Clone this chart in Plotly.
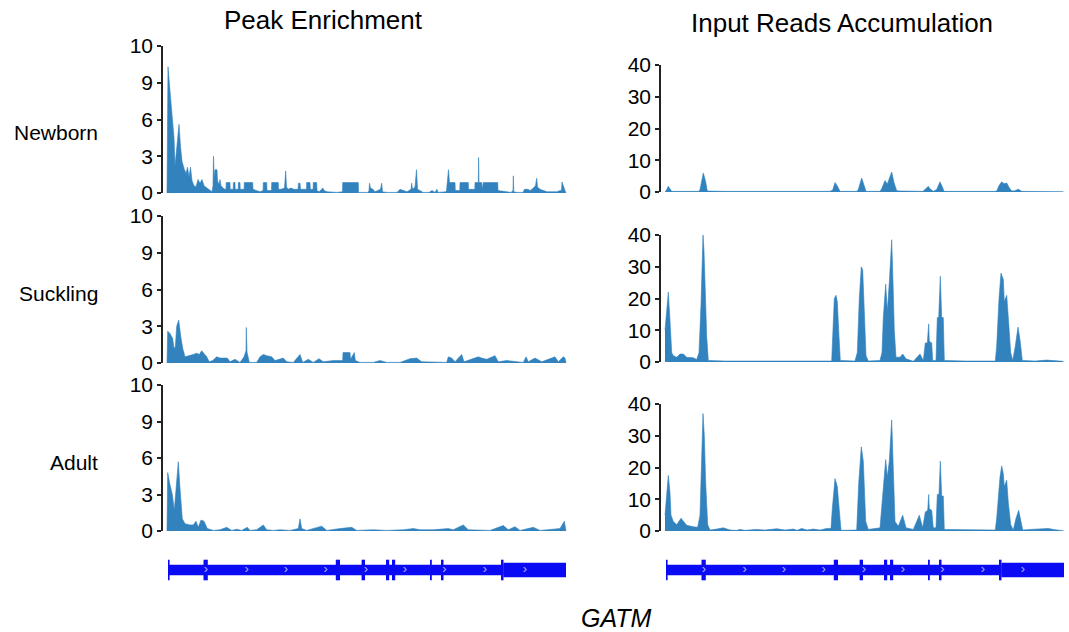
import plotly.graph_objects as go

W, H = 1069, 632
BLUE = "#3182bd"
GENE_BLUE = "#0a0af5"

# ---------------- data (position along locus 0-400, signal value) ----------------
newborn_peak = [(0,0),(1,10.3),(2.5,8.8),(4,7.4),(5.5,6.3),(7,4.5),(8,2.2),(9.5,3.5),(11,5.0),(12,5.6),
    (13.5,3.8),(15,2.6),(17,2.0),(19,1.6),(20.5,2.1),(22,1.3),(23.5,2.1),(25,1.0),(27,0.6),(29,0.5),
    (31,1.1),(33,0.8),(35,1.1),(37,0.6),(40,0.4),(43,0.2),(45,0.1),(46,0.6),(46.5,3.0),(47.3,1.2),
    (48,1.9),(50,1.9),(50.5,1.0),(52,0.7),(53,1.1),(54,0.6),(56,0.4),(58,0.3),(59,0.3),(59.2,0.85),
    (63,0.85),(63.2,0.3),(66.2,0.3),(66.4,0.85),(68,0.85),(68.2,0.3),(71.2,0.3),(71.4,0.85),(73,0.85),
    (73.2,0.3),(77.1,0.3),(77.3,0.85),(85.7,0.85),(86,0.3),(90,0.2),(93,0.1),(96.1,0.2),(96.3,0.85),
    (99.7,0.85),(100,0.2),(104.5,0.2),(104.7,0.85),(111.3,0.85),(111.5,0.3),(114,0.3),(117.5,0.4),
    (118.7,1.8),(119.5,0.5),(121,0.3),(124,0.4),(127,0.3),(131,0.3),(131.5,0.8),(133,0.8),(133.5,0.3),
    (136,0.3),(139.5,0.3),(139.7,0.85),(143,0.85),(143.3,0.3),(146.1,0.3),(146.3,0.85),(149.7,0.85),
    (150,0.2),(152,0.1),(156,0.4),(157,0.2),(160,0.1),(165,0.05),(170,0.05),(175,0.1),(175.5,0.1),
    (175.7,0.85),(191.3,0.85),(191.5,0.05),(195,0.05),(201,0.05),(202,0.2),(202.5,0.8),(203.5,0.4),
    (206,0.3),(208,0.1),(213.5,0.3),(214.7,0.8),(215.5,0.1),(220,0.05),(225,0.05),(230,0.05),(233,0.3),
    (236,0.2),(240,0.1),(244,0.3),(244.7,0.8),(245.5,0.3),(248,0.5),(249.5,1.9),(250.5,0.3),(253,0.2),
    (256,0.05),(262,0.05),(265,0.2),(268,0.05),(270,0.3),(271,0.05),(279,0.1),(279.5,0.2),(280,0.85),
    (281.5,1.9),(282.5,0.85),(288,0.85),(288.3,0.2),(292,0.2),(292.8,0.2),(293,0.85),(301.3,0.85),
    (301.5,0.3),(303,0.3),(307.8,0.3),(308,0.85),(311.3,0.85),(311.6,2.9),(312,0.85),(314.7,0.85),
    (315,0.3),(316.3,0.85),(330.7,0.85),(331,0.2),(335,0.15),(340,0.05),(344,0.05),(346,0.2),(346.3,1.4),
    (346.8,0.1),(350,0.05),(356,0.05),(357.5,0.3),(361,0.3),(363,0.2),(365,0.3),(368.5,0.6),(369.7,1.2),
    (370.5,0.5),(373,0.3),(376,0.2),(380,0.1),(385,0.1),(390,0.1),(393,0.2),(394.5,0.2),(395,0.9),
    (397,0.3),(398,0.2),(399,0)]

suckling_peak = [(0,0),(0.7,2.6),(3,2.4),(4.7,2.1),(5.7,2.0),(7,1.2),(8.3,1.3),(9.7,3.0),(11.7,3.5),
    (13.7,2.2),(15.7,1.2),(18,0.5),(23,0.6),(26.3,0.7),(29.7,0.8),(32.3,0.7),(34.7,1.0),(37,0.8),
    (39.7,0.5),(42.3,0.1),(45.7,0.2),(49.7,0.5),(53,0.4),(60.3,0.4),(63,0.1),(68,0.3),(73,0.05),(77,0.5),
    (79,1.0),(79.3,2.9),(80,0.9),(82.3,0.05),(89.7,0.05),(93,0.5),(96.3,0.7),(99.7,0.6),(104.7,0.5),
    (108,0.2),(116.3,0.4),(119.7,0.1),(126.3,0.05),(133,0.7),(135.7,0.05),(141.3,0.3),(146.3,0.05),
    (152,0.35),(156.3,0.1),(166.3,0.2),(175.7,0.2),(176,0.85),(183,0.85),(183.5,0.3),(187.3,0.85),
    (188.3,0.2),(193,0.05),(206.3,0.05),(213,0.2),(219.7,0.05),(233,0.05),(243,0.35),(249.7,0.4),
    (254.7,0.1),(266.3,0.05),(279.7,0.05),(281.3,0.5),(284.7,0.4),(288,0.1),(294.7,0.7),(297,0.1),
    (304.7,0.3),(311.3,0.5),(314.7,0.4),(319.7,0.3),(328,0.6),(331.3,0.1),(339.7,0.2),(356.3,0.05),
    (359,0.5),(361.3,0.1),(368,0.4),(374.7,0.1),(388,0.5),(391.3,0.1),(396.3,0.5),(398,0.4),(399,0)]

adult_peak = [(0,0),(0.7,4.8),(3,3.8),(5.3,3.0),(7.3,1.7),(9,3.5),(11.3,5.7),(13,3.5),(15.3,1.0),
    (18,0.6),(23,0.5),(26.3,0.5),(29,0.8),(31.3,0.3),(34,0.9),(37,0.8),(40.3,0.2),(46.3,0.05),(53,0.1),
    (59.7,0.3),(64.7,0.05),(69.7,0.15),(74.7,0.05),(80.3,0.3),(83,0.05),(89.7,0.1),(96.3,0.5),(99.7,0.1),
    (106.3,0.05),(113,0.1),(123,0.05),(131.3,0.2),(133,1.0),(134.7,0.2),(139.7,0.05),(154.7,0.4),
    (159.7,0.05),(173,0.2),(184.7,0.3),(189.7,0.05),(206.3,0.1),(219.7,0.05),(236.3,0.1),(246.3,0.2),
    (253,0.1),(266.3,0.1),(281.3,0.2),(286.3,0.1),(296.3,0.5),(301.3,0.1),(313,0.1),(323,0.05),
    (336.3,0.45),(341.3,0.1),(348,0.35),(353,0.05),(366.3,0.3),(373,0.05),(386.3,0.15),(393,0.2),
    (397.3,0.8),(398.3,0.4),(399,0)]

newborn_input = [(0,0.2),(1,0.3),(3.3,1.8),(5.5,0.8),(6.7,0.2),(20,0.2),(34,0.2),(35,0.8),(38.3,6.0),
    (40.5,3.5),(42.3,0.3),(60,0.2),(113,0.2),(113.5,0.4),(114,0.2),(165,0.2),(167.7,0.6),(170,3.0),
    (172.5,1.8),(175,0.2),(192,0.2),(193.3,0.8),(196.7,4.4),(199,2.0),(201,0.2),(215,0.2),(216.7,1.0),
    (220,3.6),(222.3,2.5),(224,4.0),(226.7,6.3),(229,3.0),(231.7,0.4),(236,0.3),(245,0.2),(258,0.2),
    (260,0.8),(263.3,1.8),(265,1.0),(268.3,0.2),(271.7,0.8),(275,3.2),(277.5,1.5),(279,0.2),(330,0.2),
    (331.7,0.3),(334,2.0),(336.7,3.2),(339,2.6),(341.7,2.8),(344,1.5),(346.7,0.3),(350,0.4),(353.3,0.9),
    (356.7,0.2),(370,0.15),(398.3,0.1)]

suckling_input = [(0,10),(3.3,22),(5,13),(5.7,8),(6.7,3),(8.3,2),(11.7,1.5),(15,2.5),(18.3,2.5),
    (21.7,1.5),(25,1.3),(28.3,1.3),(31.7,0.8),(34,3),(36,18),(38,40),(39,35),(40.3,20),(41.7,8),
    (43.3,0.5),(60,0.3),(100,0.3),(140,0.3),(166.7,0.3),(167.7,8),(169.3,20),(171,21),(172.3,19),
    (174,8),(175.3,0.5),(190,0.3),(192.3,3),(194.3,20),(196.3,30),(197.7,29),(199.3,15),(201,2),
    (203.3,0.3),(215,0.5),(217,3),(218.3,14),(220.7,24.5),(222.3,16),(224.3,25),(226.7,38.5),(228.3,22),
    (229.3,10),(231,1.5),(235,1.5),(237.7,2.5),(241,1),(248.3,0.2),(252.3,1.5),(255,2.5),(258.3,0.5),
    (260.3,6),(262.3,6),(263.7,12),(264.3,6.5),(266.7,6),(267.7,0.5),(271,0.5),(272.3,14),(273.7,14),
    (275.3,27),(276.7,14),(278.3,14),(279.3,0.5),(300,0.3),(330.3,0.3),(331.7,5),(334,20),(336,28),
    (338.3,26),(339.3,19),(341.7,21),(343.3,14),(345.7,3),(347.7,0.5),(350.3,5),(353,11),(355,7),
    (357.3,0.5),(370,0.3),(381.7,0.6),(390,0.3),(398.3,0.2)]

adult_input = [(0,5),(0.7,8),(3.3,17.5),(5,12),(6,5),(8.3,3),(11.7,2),(16,4),(18.3,3),(21.7,1.8),
    (28.3,1.3),(32.7,1.2),(35,5),(36.7,20),(38,37),(39.3,30),(40.7,15),(42.7,2),(45,0.3),(51.7,0.6),
    (58.3,1.0),(65,0.3),(71.7,0.2),(75,0.5),(80,0.2),(91.7,0.5),(100,0.3),(111.7,0.7),(120,0.3),
    (128.3,0.6),(132,0.2),(136.7,0.8),(142,0.3),(148.3,0.6),(155,0.3),(161.7,0.8),(166,0.8),(167.3,7),
    (170,16.5),(172.3,14),(174.3,5),(176,0.2),(191.7,0.3),(193.7,15),(196.3,26.5),(198.3,22),(200.7,3),
    (203.3,0.5),(215,1.0),(217.7,12),(220.7,22.5),(222.3,17),(224.3,22),(226.7,35),(228.3,21),(230,3),
    (233.3,1.5),(237.7,5),(241,1),(248.3,0.5),(254.3,5),(257.7,1),(260.3,6),(262.7,6.5),(263.7,11.5),
    (264.3,7),(266.7,6.5),(268.3,1),(271,1),(272.3,11.5),(274,11.5),(275.3,22),(276.7,11),(278.3,11),
    (279.3,0.5),(300,0.4),(320,0.3),(330.3,0.3),(331.7,4),(335,17),(336.7,20.5),(338.3,18),(339.3,14),
    (341.7,16),(343.3,9),(345.7,2),(348.3,0.3),(351,4),(353.7,6.5),(356,3),(357.7,0.3),(365,0.5),
    (375,0.6),(383.3,0.8),(390,0.4),(398.3,0.1)]

rows = ["Newborn", "Suckling", "Adult"]
titles = ["Peak Enrichment", "Input Reads Accumulation"]
gene_name = "GATM"

peak_tickvals = [0, 3, 6, 9, 12]
peak_ticktext = ["0", "3", "6", "9", "10"]
input_tickvals = [0, 10, 20, 30, 40]
input_ticktext = ["0", "10", "20", "30", "40"]

# GATM gene model (start, end) along the same locus coordinate
exons = [(1.0, 2.6), (36.5, 40.8), (168.8, 173.0), (194.6, 198.0), (219.0, 222.2),
         (225.0, 228.2), (263.0, 264.8), (274.0, 276.5), (334.0, 336.5)]
intron_span = (1.0, 336.5)
utr_span = (336.5, 399.0)
strand_marks = [39, 79.7, 119, 158.7, 199, 238, 277.3, 318, 358]

# ---------------- layout helpers ----------------
def dx(a, b):
    return [a / W, b / W]

def dy(top, bottom):
    return [1 - bottom / H, 1 - top / H]

left_x = dx(163, 567)
right_x = dx(661, 1065)
left_y = [dy(46, 193), dy(216, 363), dy(385, 531)]
right_y = [dy(65, 192), dy(235, 362), dy(404, 531)]

tracks_left = [newborn_peak, suckling_peak, adult_peak]
tracks_right = [newborn_input, suckling_input, adult_input]

fig = go.Figure()
layout = dict(
    width=W, height=H, margin=dict(l=0, r=0, t=0, b=0, pad=0, autoexpand=False),
    paper_bgcolor="white", plot_bgcolor="white", showlegend=False,
    font=dict(family="Arial, Liberation Sans, sans-serif", color="black"),
)

def add_axes(idx, xdom, ydom, yr, tv, tt):
    xs = "xaxis" if idx == 1 else f"xaxis{idx}"
    ys = "yaxis" if idx == 1 else f"yaxis{idx}"
    layout[xs] = dict(domain=xdom, range=[-4, 400], visible=False, automargin=False,
                      anchor=f"y{'' if idx == 1 else idx}")
    layout[ys] = dict(domain=ydom, range=yr, anchor=f"x{'' if idx == 1 else idx}",
                      tickvals=tv, ticktext=tt, ticks="outside", ticklen=4, tickwidth=1.5,
                      tickcolor="#222", showline=True, linewidth=1.5, linecolor="#222",
                      showgrid=False, zeroline=False, tickfont=dict(size=21, color="black"),
                      automargin=False, fixedrange=True)

idx = 0
for r in range(3):
    for c in range(2):
        idx += 1
        data = tracks_left[r] if c == 0 else tracks_right[r]
        if c == 0:
            add_axes(idx, left_x, left_y[r], [0, 12], peak_tickvals, peak_ticktext)
        else:
            add_axes(idx, right_x, right_y[r], [0, 40], input_tickvals, input_ticktext)
        xs = [p for p, v in data]
        vs = [v for p, v in data]
        ax = "" if idx == 1 else str(idx)
        fig.add_trace(go.Scatter(x=xs, y=vs, mode="lines", fill="tozeroy",
                                 line=dict(color=BLUE, width=0.6), fillcolor=BLUE,
                                 xaxis=f"x{ax}", yaxis=f"y{ax}", hoverinfo="skip"))

# gene tracks
shapes = []
for gi, xdom in zip([7, 8], [left_x, right_x]):
    layout[f"xaxis{gi}"] = dict(domain=xdom, range=[-4, 400], visible=False, automargin=False,
                                anchor=f"y{gi}")
    layout[f"yaxis{gi}"] = dict(domain=dy(555, 585), range=[-1.5, 1.5], visible=False,
                                automargin=False, anchor=f"x{gi}")
    xr, yr = f"x{gi}", f"y{gi}"
    shapes.append(dict(type="rect", xref=xr, yref=yr, x0=intron_span[0], x1=intron_span[1],
                       y0=-0.53, y1=0.53, fillcolor=GENE_BLUE, line=dict(width=0), layer="below"))
    shapes.append(dict(type="rect", xref=xr, yref=yr, x0=utr_span[0], x1=utr_span[1],
                       y0=-0.72, y1=0.72, fillcolor=GENE_BLUE, line=dict(width=0), layer="below"))
    for a, b in exons:
        shapes.append(dict(type="rect", xref=xr, yref=yr, x0=a, x1=b,
                           y0=-1.03, y1=1.03, fillcolor=GENE_BLUE, line=dict(width=0), layer="below"))
    fig.add_trace(go.Scatter(x=strand_marks, y=[0] * len(strand_marks), mode="text",
                             text=["›"] * len(strand_marks),
                             textfont=dict(size=13, color="#aab2ff"),
                             xaxis=xr, yaxis=yr, hoverinfo="skip"))
layout["shapes"] = shapes

ann = []
ann.append(dict(text=titles[0], x=323 / W, y=1 - 20 / H, xref="paper", yref="paper",
                showarrow=False, font=dict(size=26), xanchor="center", yanchor="middle"))
ann.append(dict(text=titles[1], x=842 / W, y=1 - 23 / H, xref="paper", yref="paper",
                showarrow=False, font=dict(size=26), xanchor="center", yanchor="middle"))
for lab, yc in zip(rows, [132, 293, 462]):
    ann.append(dict(text=lab, x=100 / W, y=1 - yc / H, xref="paper", yref="paper",
                    showarrow=False, font=dict(size=21), xanchor="right", yanchor="middle"))
ann.append(dict(text=f"<i>{gene_name}</i>", x=616 / W, y=1 - 618 / H, xref="paper", yref="paper",
                showarrow=False, font=dict(size=25), xanchor="center", yanchor="middle"))
layout["annotations"] = ann

fig.update_layout(**layout)
fig.write_html("out.html")
